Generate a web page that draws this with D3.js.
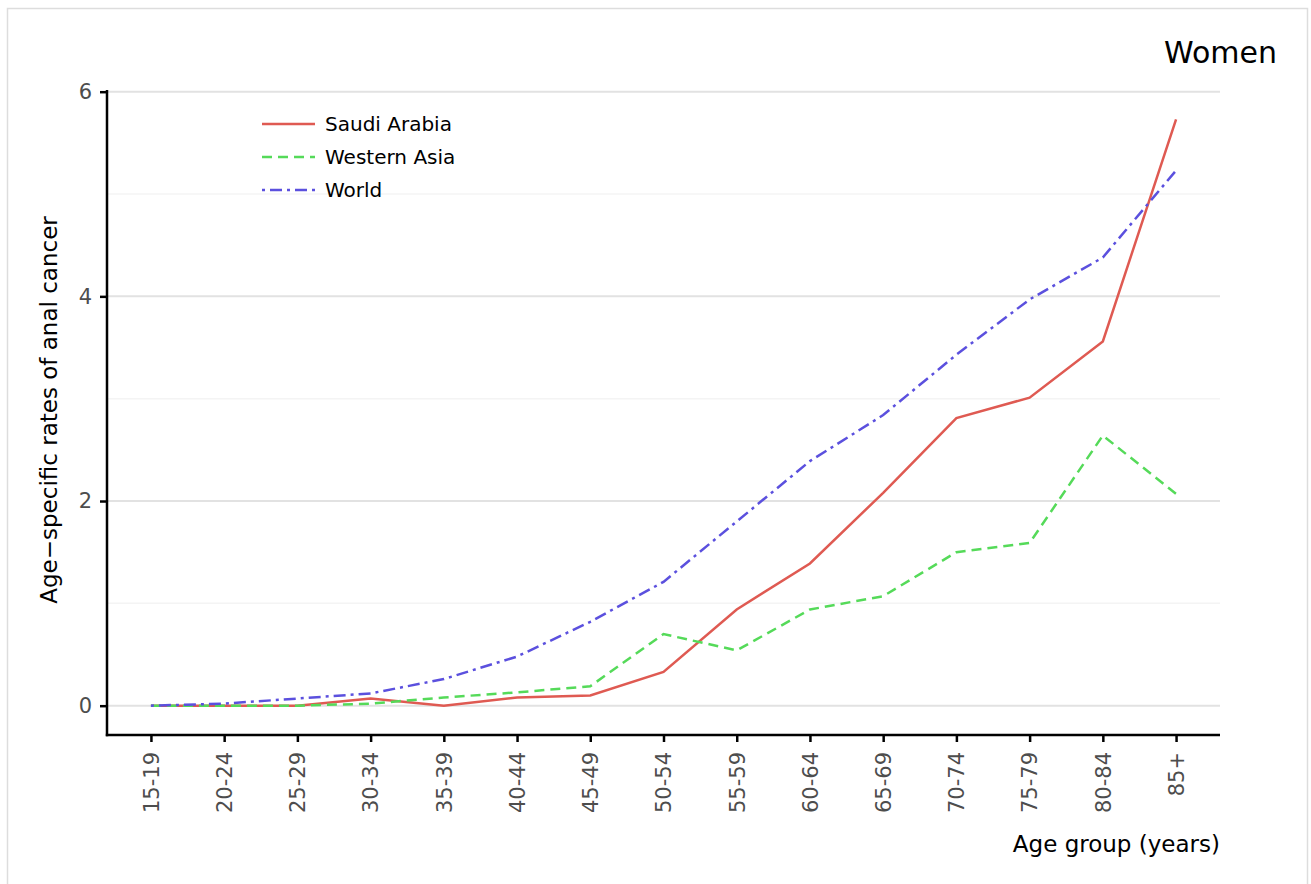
<!DOCTYPE html>
<html>
<head>
<meta charset="utf-8">
<script src="https://cdn.jsdelivr.net/npm/d3@7"></script>
<style>
  html, body { margin: 0; padding: 0; background: #fff; }
  svg { display: block; font-family: "DejaVu Sans", sans-serif; }
</style>
</head>
<body>
<svg id="chart" width="1311" height="884"></svg>
<script>
const ageGroups = ["15-19","20-24","25-29","30-34","35-39","40-44","45-49","50-54","55-59","60-64","65-69","70-74","75-79","80-84","85+"];
const saudiArabia = [0, 0, 0, 0.07, 0, 0.08, 0.10, 0.33, 0.94, 1.39, 2.08, 2.81, 3.01, 3.56, 5.73];
const westernAsia = [0, 0, 0, 0.02, 0.08, 0.13, 0.19, 0.70, 0.54, 0.94, 1.07, 1.50, 1.59, 2.64, 2.07];
const world       = [0, 0.02, 0.07, 0.12, 0.26, 0.48, 0.82, 1.21, 1.80, 2.39, 2.84, 3.43, 3.97, 4.38, 5.23];
const yTicks = [0, 2, 4, 6];
const yMinor = [1, 3, 5];
const seriesNames = ["Saudi Arabia", "Western Asia", "World"];

const colors = { "Saudi Arabia": "#DF5A52", "Western Asia": "#55DA59", "World": "#5B50DE" };
const dashes = { "Saudi Arabia": null, "Western Asia": "10,6", "World": "3,5,12,5" };
const seriesData = { "Saudi Arabia": saudiArabia, "Western Asia": westernAsia, "World": world };

const svg = d3.select("#chart");

// outer panel frame
svg.append("rect").attr("x", 7.5).attr("y", 8.5).attr("width", 1300).attr("height", 900)
  .attr("fill", "#fff").attr("stroke", "#dddddd").attr("stroke-width", 1.5);

const pLeft = 107, pRight = 1220, pTop = 90, pBottom = 735;

const allVals = saudiArabia.concat(westernAsia, world);
const yMax = d3.max(allVals), yMinV = 0;
const pad = (yMax - yMinV) * 0.05;
const y = d3.scaleLinear().domain([yMinV - pad, yMax + pad]).range([pBottom, pTop]);
const x = d3.scalePoint().domain(ageGroups).range([pLeft, pRight]).padding(0.6);

// grid
svg.append("g").selectAll("line").data(yMinor).join("line")
  .attr("x1", pLeft).attr("x2", pRight).attr("y1", d => y(d)).attr("y2", d => y(d))
  .attr("stroke", "#f4f4f4").attr("stroke-width", 1.5);
svg.append("g").selectAll("line").data(yTicks).join("line")
  .attr("x1", pLeft).attr("x2", pRight).attr("y1", d => y(d)).attr("y2", d => y(d))
  .attr("stroke", "#e2e2e2").attr("stroke-width", 2);

// lines
const line = d3.line().x((d, i) => x(ageGroups[i])).y(d => y(d));
seriesNames.forEach(name => {
  svg.append("path").datum(seriesData[name])
    .attr("d", line)
    .attr("fill", "none")
    .attr("stroke", colors[name])
    .attr("stroke-width", 2.5)
    .attr("stroke-dasharray", dashes[name]);
});

// axes
const yAxis = d3.axisLeft(y).tickValues(yTicks).tickSize(7).tickPadding(8).tickFormat(d3.format("d"));
const gy = svg.append("g").attr("transform", `translate(${pLeft},0)`).call(yAxis);
gy.select(".domain").remove();
gy.append("line").attr("x1", 0).attr("x2", 0).attr("y1", pTop).attr("y2", pBottom + 1.2)
  .attr("stroke", "#000").attr("stroke-width", 2.5);
gy.selectAll(".tick line").attr("stroke", "#000").attr("stroke-width", 2.5);
gy.selectAll(".tick text").attr("font-size", 21).attr("fill", "#4d4d4d")
  .attr("font-family", "DejaVu Sans");

const xAxis = d3.axisBottom(x).tickSize(7).tickPadding(0);
const gx = svg.append("g").attr("transform", `translate(0,${pBottom})`).call(xAxis);
gx.select(".domain").remove();
gx.append("line").attr("x1", pLeft - 1.2).attr("x2", pRight).attr("y1", 0).attr("y2", 0)
  .attr("stroke", "#000").attr("stroke-width", 2.5);
gx.selectAll(".tick line").attr("stroke", "#000").attr("stroke-width", 2.5);
gx.selectAll(".tick text")
  .attr("font-size", 21).attr("fill", "#4d4d4d").attr("font-family", "DejaVu Sans")
  .attr("transform", "rotate(-90)")
  .attr("text-anchor", "end")
  .attr("x", -17).attr("y", 0).attr("dy", "0.35em");

// axis titles
svg.append("text").attr("transform", "translate(57,410) rotate(-90)")
  .attr("text-anchor", "middle").attr("font-size", 23).attr("fill", "#000")
  .text("Age\u2212specific rates of anal cancer");
svg.append("text").attr("x", pRight).attr("y", 852).attr("text-anchor", "end")
  .attr("font-size", 23).attr("fill", "#000").text("Age group (years)");

// panel title
svg.append("text").attr("x", 1277).attr("y", 63).attr("text-anchor", "end")
  .attr("font-size", 30).attr("fill", "#000").text("Women");

// legend
const lg = svg.append("g");
seriesNames.forEach((name, i) => {
  const ly = 124 + i * 33;
  lg.append("line").attr("x1", 262).attr("x2", 315).attr("y1", ly).attr("y2", ly)
    .attr("stroke", colors[name]).attr("stroke-width", 2.5).attr("stroke-dasharray", dashes[name]);
  lg.append("text").attr("x", 325).attr("y", ly).attr("dy", "0.35em")
    .attr("font-size", 20).attr("fill", "#000").text(name);
});
</script>
</body>
</html>
